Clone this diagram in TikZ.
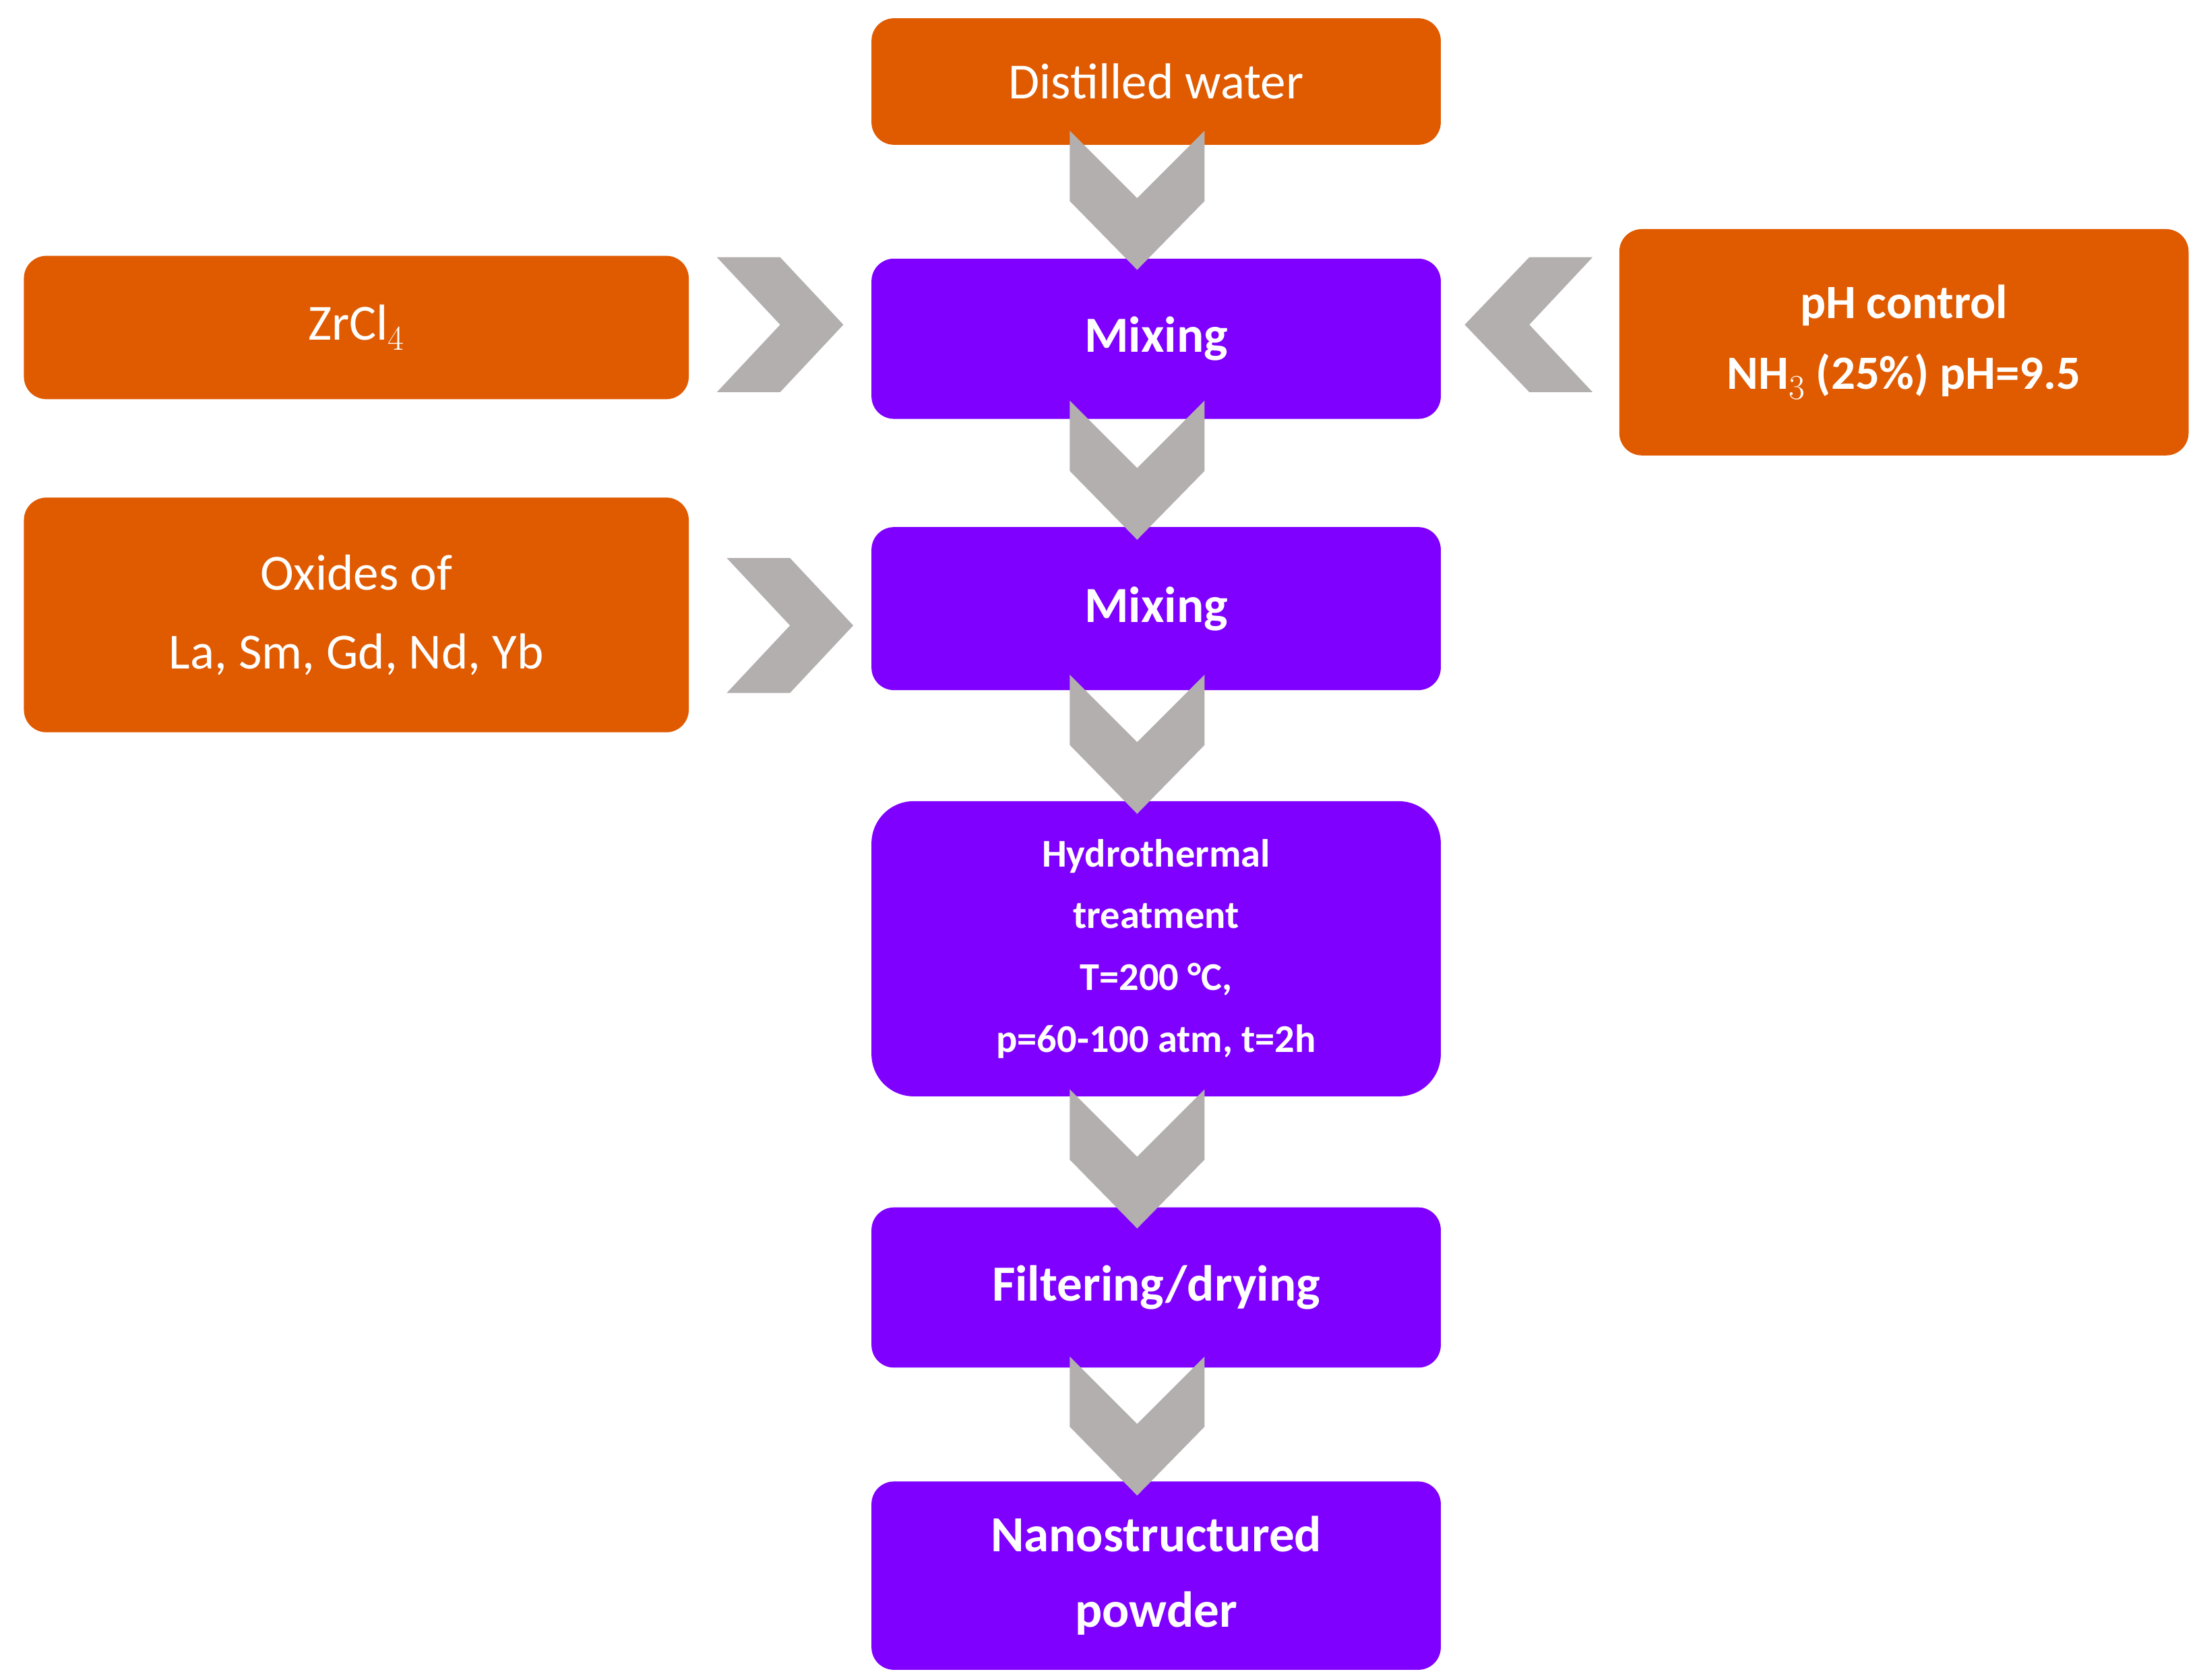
\documentclass[tikz,border=0pt]{standalone}
\usepackage{fontspec}
\setmainfont{Carlito}
\definecolor{org}{HTML}{E05A00}
\definecolor{pur}{HTML}{7F00FF}
\definecolor{chev}{HTML}{B3AFAE}
\begin{document}
\begin{tikzpicture}[x=1pt,y=-1pt,
 box/.style={rounded corners=16pt,text=white,align=center,inner sep=0pt},
 ob/.style={box,fill=org},
 pb/.style={box,fill=pur,font=\bfseries\fontsize{36}{50}\selectfont},
 ch/.style={fill=chev}]
\useasboundingbox (0,0) rectangle (1563,1195);
\newcommand\bx[6]{\path[#1] (#2,#3) rectangle (#4,#5) node[midway,text=white,align=center] (#6) {};}
\path[ob] (620,13) rectangle (1025,103) node[midway,font=\fontsize{36}{44}\selectfont] (dw) {Distilled water};
\path[ob] (17,182) rectangle (490,284) node[midway,font=\fontsize{36}{44}\selectfont] (zr) {ZrCl$_4$};
\path[ob] (1152,163) rectangle (1557,324) node[midway,font=\bfseries\fontsize{34}{50}\selectfont] (ph) {pH control\\NH$_3$ (25\%) pH=9.5};
\path[ob] (17,354) rectangle (490,521) node[midway,font=\fontsize{36}{56}\selectfont] (ox) {Oxides of\\La, Sm, Gd, Nd, Yb};
\path[pb] (620,184) rectangle (1025,298) node[midway] (m1) {Mixing};
\path[pb] (620,375) rectangle (1025,491) node[midway] (m2) {Mixing};
\path[pb,rounded corners=30pt] (620,570) rectangle (1025,780) node[midway,font=\bfseries\fontsize{28}{44}\selectfont] (ht) {Hydrothermal\\treatment\\T=200 °C,\\p=60-100 atm, t=2h};
\path[pb] (620,859) rectangle (1025,973) node[midway] (fd) {Filtering/drying};
\path[pb] (620,1054) rectangle (1025,1188) node[midway,font=\bfseries\fontsize{36}{54}\selectfont] (np) {Nanostructured\\powder};
\foreach \t in {93,285,480,775,965}{
 \fill[ch] (761,\t) -- (809,\t+48) -- (857,\t) -- (857,\t+50) -- (809,\t+99) -- (761,\t+50) -- cycle;}
\fill[ch] (510,183) -- (555,183) -- (600,231) -- (555,279) -- (510,279) -- (555,231) -- cycle;
\fill[ch] (517,397) -- (562,397) -- (607,445) -- (562,493) -- (517,493) -- (562,445) -- cycle;
\fill[ch] (1133,183) -- (1088,183) -- (1042,231) -- (1088,279) -- (1133,279) -- (1088,231) -- cycle;
\end{tikzpicture}
\end{document}
